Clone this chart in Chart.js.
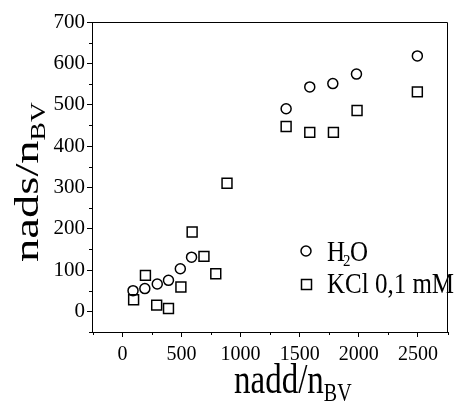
<!DOCTYPE html>
<html>
<head>
<meta charset="utf-8">
<script src="https://cdn.jsdelivr.net/npm/chart.js@4"></script>
<style>
html,body{margin:0;padding:0;background:#fff;}
#wrap{width:456px;height:409px;position:relative;}
</style>
</head>
<body>
<div id="wrap"><canvas id="c" width="456" height="409"></canvas></div>
<script>
// ---- data ----
const h2oX = [90, 190, 295, 390, 490, 585, 1385, 1585, 1780, 1980, 2495];
const h2oY = [50, 55, 66, 75, 103, 131, 490, 543, 551, 574, 618];
const kclX = [95, 195, 290, 390, 495, 590, 690, 790, 885, 1385, 1585, 1785, 1985, 2495];
const kclY = [28, 87, 15, 7, 59, 192, 133, 91, 310, 447, 433, 433, 486, 531];
const seriesNames = ['H2O', 'KCl 0,1 mM'];
const xTicks = [0, 500, 1000, 1500, 2000, 2500];
const yTicks = [0, 100, 200, 300, 400, 500, 600, 700];
const xMinor = [-250, 250, 750, 1250, 1750, 2250, 2750];
const yMinor = [-50, 50, 150, 250, 350, 450, 550, 650];
const xTitle = ['nadd/n', 'BV'];
const yTitle = ['nads/n', 'BV'];

const FONT = "'Liberation Serif', 'Times New Roman', serif";

function pts(xs, ys){ return xs.map((x,i)=>({x:x, y:ys[i]})); }

const decor = {
  id: 'decor',
  afterDraw(chart){
    const ctx = chart.ctx;
    const a = chart.chartArea;
    const xs = chart.scales.x, ys = chart.scales.y;
    ctx.save();
    ctx.strokeStyle = '#000';
    ctx.lineWidth = 1;
    // top and right frame
    ctx.beginPath();
    ctx.moveTo(Math.round(a.left)+0.5, Math.round(a.top)+0.5);
    ctx.lineTo(Math.round(a.right)-0.5, Math.round(a.top)+0.5);
    ctx.lineTo(Math.round(a.right)-0.5, Math.round(a.bottom));
    ctx.stroke();
    // minor ticks
    ctx.beginPath();
    xMinor.forEach(v=>{
      const px = Math.round(xs.getPixelForValue(v))+0.5;
      if (px < a.left-1 || px > a.right+1) return;
      ctx.moveTo(px, a.bottom); ctx.lineTo(px, a.bottom+3);
    });
    yMinor.forEach(v=>{
      const py = Math.round(ys.getPixelForValue(v))+0.5;
      if (py < a.top-1 || py > a.bottom+1) return;
      ctx.moveTo(a.left, py); ctx.lineTo(a.left-3, py);
    });
    ctx.stroke();

    ctx.fillStyle = '#000';
    ctx.textBaseline = 'alphabetic';
    ctx.textAlign = 'left';
    // x title
    ctx.save();
    ctx.translate(234, 393);
    ctx.scale(1, 1.3);
    ctx.font = '33px ' + FONT;
    ctx.fillText(xTitle[0], 0, 0);
    let w = ctx.measureText(xTitle[0]).width;
    ctx.font = '20px ' + FONT;
    ctx.fillText(xTitle[1], w, 6);
    ctx.restore();
    // y title
    ctx.save();
    ctx.translate(38, 262);
    ctx.rotate(-Math.PI/2);
    ctx.scale(1.37, 1);
    ctx.font = '34px ' + FONT;
    ctx.fillText(yTitle[0], 0, 0);
    w = ctx.measureText(yTitle[0]).width;
    ctx.font = '20px ' + FONT;
    ctx.fillText(yTitle[1], w, 7);
    ctx.restore();

    // legend
    ctx.lineWidth = 1.5;
    ctx.beginPath();
    ctx.arc(306, 251, 5, 0, Math.PI*2);
    ctx.stroke();
    ctx.strokeRect(301.5, 279.5, 10, 10);
    ctx.save();
    ctx.translate(327, 261);
    ctx.scale(1, 1.15);
    ctx.font = '25px ' + FONT;
    ctx.fillText('H', 0, 0);
    let hw = ctx.measureText('H').width;
    ctx.font = '15px ' + FONT;
    ctx.fillText('2', hw - 2, 4);
    ctx.font = '25px ' + FONT;
    ctx.fillText('O', hw + 5, 0);
    ctx.restore();
    ctx.save();
    ctx.translate(327, 293);
    ctx.scale(1, 1.15);
    ctx.font = '25px ' + FONT;
    ctx.fillText(seriesNames[1], 0, 0);
    ctx.restore();
    ctx.restore();
  }
};

new Chart(document.getElementById('c'), {
  type: 'scatter',
  data: {
    datasets: [
      { label: seriesNames[0], data: pts(h2oX, h2oY), pointStyle: 'circle', pointRadius: 5,
        pointBorderWidth: 1.5, borderColor: '#000', backgroundColor: 'rgba(0,0,0,0)', pointBackgroundColor: 'rgba(0,0,0,0)' },
      { label: seriesNames[1], data: pts(kclX, kclY), pointStyle: 'rect', pointRadius: 7,
        pointBorderWidth: 1.5, borderColor: '#000', backgroundColor: 'rgba(0,0,0,0)', pointBackgroundColor: 'rgba(0,0,0,0)' }
    ]
  },
  options: {
    responsive: false,
    animation: false,
    devicePixelRatio: 1,
    layout: { padding: { left: 0, top: 22, right: 3, bottom: 0 } },
    plugins: { legend: { display: false }, tooltip: { enabled: false } },
    scales: {
      x: {
        type: 'linear', min: -257, max: 2750,
        afterBuildTicks: s => { s.ticks = xTicks.map(v=>({value:v})); },
        afterFit: s => { s.height = 77; },
        grid: { display: true, drawOnChartArea: false, drawTicks: true, tickLength: 5, color: '#000', tickColor: '#000', lineWidth: 1 },
        border: { display: true, color: '#000', width: 1 },
        ticks: { color: '#000', padding: 6, maxRotation: 0, autoSkip: false, font: { family: FONT, size: 20 },
                 callback: v => String(v) }
      },
      y: {
        type: 'linear', min: -50, max: 700,
        afterBuildTicks: s => { s.ticks = yTicks.map(v=>({value:v})); },
        afterFit: s => { s.width = 92; },
        grid: { display: true, drawOnChartArea: false, drawTicks: true, tickLength: 5, color: '#000', tickColor: '#000', lineWidth: 1 },
        border: { display: true, color: '#000', width: 1 },
        ticks: { color: '#000', padding: 2, autoSkip: false, font: { family: FONT, size: 21 },
                 callback: v => String(v) }
      }
    }
  },
  plugins: [decor]
});
</script>
</body>
</html>
